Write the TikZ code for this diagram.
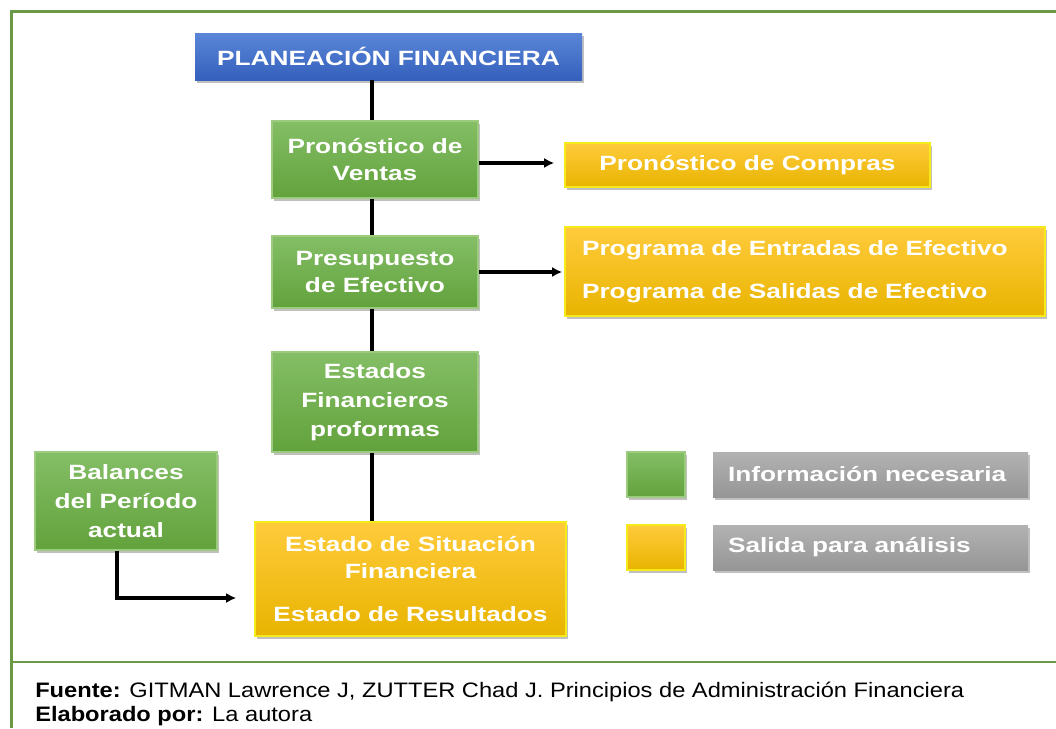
\documentclass[tikz,border=0pt]{standalone}
\usepackage{fontspec}
\setmainfont{Liberation Sans}
\newfontfamily\bx[FakeStretch=1.27]{Liberation Sans}
\newfontfamily\ft[FakeStretch=1.13]{Liberation Sans}
\usetikzlibrary{shadows,calc,arrows.meta}
\definecolor{frameg}{HTML}{6A9A45}
\definecolor{gtop}{HTML}{84BE66}
\definecolor{gbot}{HTML}{62A23C}
\definecolor{gedge}{HTML}{9CCB80}
\definecolor{ytop}{HTML}{FFCB3C}
\definecolor{ymid}{HTML}{FFC20A}
\definecolor{ybot}{HTML}{E8B400}
\definecolor{yedge}{HTML}{F5EA1A}
\definecolor{btop}{HTML}{5A86D8}
\definecolor{bbot}{HTML}{3460BC}
\definecolor{rtop}{HTML}{B2B2B2}
\definecolor{rbot}{HTML}{969696}
\tikzset{
  sz/.style 2 args={minimum width=#1*0.75pt, minimum height=#2*0.75pt},
  shad/.style={drop shadow={shadow xshift=1.5pt, shadow yshift=-2pt, opacity=0.35, fill=black!70}},
  boxtxt/.style={text=white, align=center, inner sep=0pt, font=\bx\bfseries\fontsize{15.5}{20.5}\selectfont},
  gbox/.style={boxtxt, shad, top color=gtop, bottom color=gbot, draw=gedge, line width=0.8pt},
  ybox/.style={boxtxt, shad, top color=ytop, middle color=ymid, bottom color=ybot, draw=yedge, line width=1.2pt},
  bbox/.style={boxtxt, shad, top color=btop, bottom color=bbot, draw=none},
  rbox/.style={boxtxt, shad, top color=rtop, bottom color=rbot, draw=none},
  link/.style={line width=2.6pt, black},
  arr/.style={link, -{Latex[length=7.5pt,width=7.5pt]}},
  frame/.style={line width=2.2pt, frameg},
  foot/.style={anchor=base west, inner sep=0pt, font=\ft\fontsize{15.7}{18}\selectfont},
}
\begin{document}
\begin{tikzpicture}[x=0.75pt, y=-0.75pt]
\useasboundingbox (0,0) rectangle (1056,728);
\fill[white] (0,0) rectangle (1056,728);
% frame
\draw[frame] (11.5,728) -- (11.5,11.5) -- (1056,11.5);
\draw[frame] (11.5,662) -- (1056,662);

% nodes
\node[bbox, sz={387}{47}] (plan) at (388.5,56.5) {PLANEACIÓN FINANCIERA};
\node[gbox, sz={206}{77}] (ventas) at (375,159.5) {Pronóstico de\\Ventas};
\node[ybox, sz={365}{44}] (compras) at (747.5,165) {Pronóstico de Compras};
\node[gbox, sz={206}{72}] (presup) at (375,272) {Presupuesto\\de Efectivo};
\node[ybox, sz={480}{89}, text width=446*0.75pt, align=left] (program) at (805,271.5) {Programa de Entradas de Efectivo\\[12pt]Programa de Salidas de Efectivo};
\node[gbox, sz={206}{100}] (estados) at (375,402) {Estados\\[1pt]Financieros\\[1pt]proformas};
\node[gbox, sz={182}{98}] (balances) at (126,501) {Balances\\[1pt]del Período\\[1pt]actual};
\node[ybox, sz={311}{114}] (situacion) at (410.5,579) {Estado de Situación\\Financiera\\[12pt]Estado de Resultados};

% legend
\node[gbox, sz={58}{45}] (lg) at (656,474.5) {};
\node[rbox, sz={315}{45}, text width=285*0.75pt, align=left] (lgt) at (870.5,474.5) {Información necesaria};
\node[ybox, sz={58}{45}] (ly) at (656,547.5) {};
\node[rbox, sz={315}{45}, text width=285*0.75pt, align=left] (lyt) at (870.5,547.5) {Salida para análisis};

% connectors
\coordinate (tx) at (372,0);
\coordinate (bx) at (117,0);
\coordinate (ay) at (0,598);
\coordinate (vy) at (0,163);
\draw[link] (plan.south -| tx) -- (ventas.north -| tx);
\draw[link] (ventas.south -| tx) -- (presup.north -| tx);
\draw[link] (presup.south -| tx) -- (estados.north -| tx);
\draw[link] (estados.south -| tx) -- (situacion.north -| tx);
\draw[arr, shorten >=7.5pt] (ventas.east |- vy) -- (compras.west |- vy);
\draw[arr, shorten >=1.5pt] (presup.east) -- (presup.east -| program.west);
\draw[arr, shorten >=13.5pt] (balances.south -| bx) |- (situacion.west |- ay);

% footer
\node[foot] (fuente) at (35,697) {\textbf{Fuente:} GITMAN Lawrence J, ZUTTER Chad J. Principios de Administración Financiera};
\node[foot] (elab) at (35,721) {\textbf{Elaborado por:} La autora};
\end{tikzpicture}
\end{document}
